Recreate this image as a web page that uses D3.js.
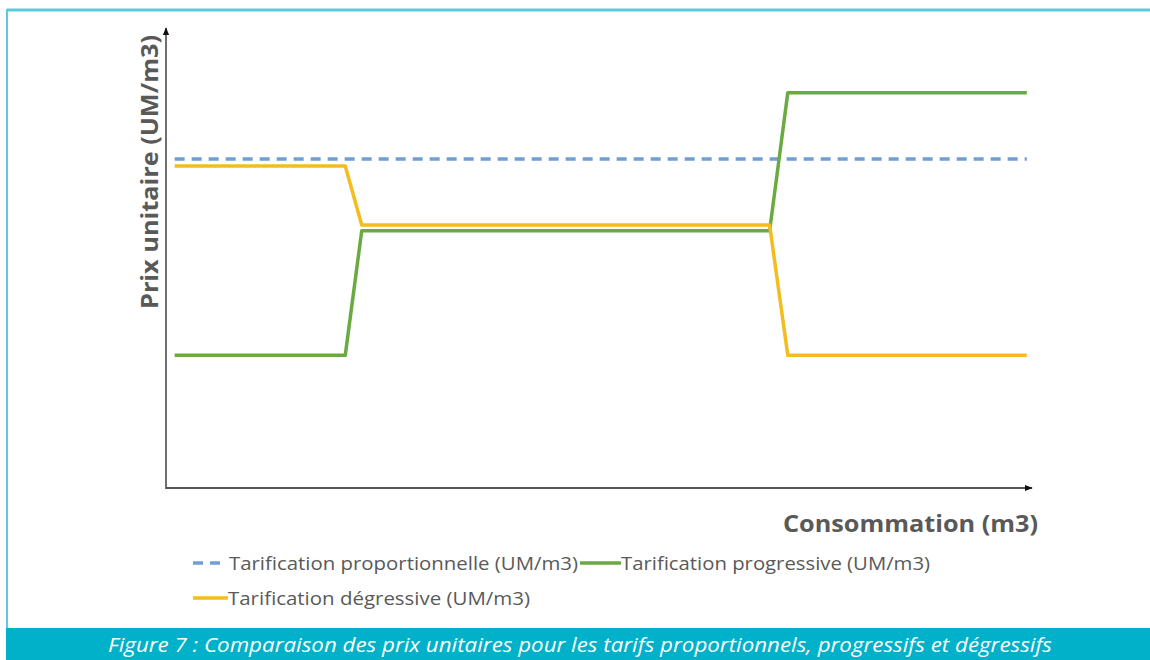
<!DOCTYPE html>
<html>
<head>
<meta charset="utf-8" />
<script src="https://d3js.org/d3.v7.min.js"></script>
<style>
  body { margin: 0; background: #fff; }
  svg { display: block; font-family: "Open Sans", sans-serif; }
</style>
</head>
<body>
<div id="visu"></div>
<script>
// Dimensions
const largeur = 1150;
const hauteur = 660;

// Données (unités arbitraires)
const consommation = [1, 20.7, 22.6, 69.7, 71.8, 99.4];
const proportionnelle = [5.03, 5.03, 5.03, 5.03, 5.03, 5.03];
const progressive = [2.03, 2.03, 3.93, 3.93, 6.04, 6.04];
const degressive = [4.92, 4.92, 4.02, 4.02, 2.03, 2.03];

const series = ["Tarification proportionnelle (UM/m3)", "Tarification progressive (UM/m3)", "Tarification dégressive (UM/m3)"];
const couleurs = ["#6f9fd6", "#6aaa40", "#f4bd1e"];
const valeurs = [proportionnelle, progressive, degressive];

const titreX = "Consommation (m3)";
const titreY = "Prix unitaire (UM/m3)";
const legende = "Figure 7 : Comparaison des prix unitaires pour les tarifs proportionnels, progressifs et dégressifs";

const svg = d3.select('#visu').append('svg')
  .attr('width', largeur)
  .attr('height', hauteur);

// cadre turquoise
svg.append('line').attr('x1', 7).attr('x2', largeur).attr('y1', 10).attr('y2', 10)
  .attr('stroke', '#5ccad9').attr('stroke-width', 3);
svg.append('line').attr('x1', 7).attr('x2', 7).attr('y1', 9).attr('y2', 630)
  .attr('stroke', '#5ccad9').attr('stroke-width', 2);
svg.append('rect').attr('x', 6).attr('y', 628).attr('width', largeur - 6).attr('height', 32)
  .attr('fill', '#00b1c9');
svg.append('text')
  .attr('x', 580).attr('y', 652)
  .attr('text-anchor', 'middle')
  .attr('fill', '#fff')
  .attr('font-style', 'italic')
  .attr('font-size', 20)
  .attr('textLength', 944)
  .attr('lengthAdjust', 'spacingAndGlyphs')
  .text(legende);

// Echelles
const marge = {gauche: 166, droite: 1032, haut: 30, bas: 488};
const x = d3.scaleLinear().domain([0, 100]).range([marge.gauche, marge.droite]);
const y = d3.scaleLinear().domain([0, 7]).range([marge.bas, marge.haut]);

// flèches
const defs = svg.append('defs');
defs.append('marker')
  .attr('id', 'fleche')
  .attr('viewBox', '0 0 10 10')
  .attr('refX', 9).attr('refY', 5)
  .attr('markerWidth', 8).attr('markerHeight', 8)
  .attr('markerUnits', 'userSpaceOnUse')
  .attr('orient', 'auto')
  .append('path').attr('d', 'M0,1 L10,5 L0,9 Z').attr('fill', '#111');

// Axes (sans graduations)
svg.append('line')
  .attr('x1', x(0)).attr('x2', x(0))
  .attr('y1', y(0) + 1).attr('y2', y(7) - 2)
  .attr('stroke', '#222').attr('stroke-width', 1.3)
  .attr('marker-end', 'url(#fleche)');
svg.append('line')
  .attr('x1', x(0)).attr('x2', x(100))
  .attr('y1', y(0)).attr('y2', y(0))
  .attr('stroke', '#555').attr('stroke-width', 2)
  .attr('marker-end', 'url(#fleche)');

// Titres des axes
svg.append('text')
  .attr('x', 783).attr('y', 532)
  .attr('font-size', 23).attr('font-weight', 'bold')
  .attr('fill', '#595959')
  .attr('textLength', 255)
  .attr('lengthAdjust', 'spacingAndGlyphs')
  .text(titreX);
svg.append('text')
  .attr('transform', 'translate(158, 172) rotate(-90)')
  .attr('text-anchor', 'middle')
  .attr('font-size', 23).attr('font-weight', 'bold')
  .attr('fill', '#595959')
  .attr('textLength', 274)
  .attr('lengthAdjust', 'spacingAndGlyphs')
  .text(titreY);

// Lignes
const ligneGen = d3.line()
  .x((d, i) => x(consommation[i]))
  .y(d => y(d));

valeurs.forEach((v, i) => {
  svg.append('path')
    .datum(v)
    .attr('d', ligneGen)
    .attr('fill', 'none')
    .attr('stroke', couleurs[i])
    .attr('stroke-width', 3.5)
    .attr('stroke-linejoin', 'round')
    .attr('stroke-dasharray', i === 0 ? '10,7' : null);
});

// Légende
const posLegende = [[193, 563], [580, 563], [193, 598]];
const longueur = [31, 41, 35];
const largeurTexte = [349, 309, 302];
series.forEach((s, i) => {
  const [lx, ly] = posLegende[i];
  svg.append('line')
    .attr('x1', lx).attr('x2', lx + longueur[i])
    .attr('y1', ly).attr('y2', ly)
    .attr('stroke', couleurs[i]).attr('stroke-width', 3.5)
    .attr('stroke-dasharray', i === 0 ? '10,7' : null);
  svg.append('text')
    .attr('x', i === 0 ? 229 : lx + longueur[i]).attr('y', ly + 7)
    .attr('font-size', 18.5)
    .attr('fill', '#595959')
    .attr('textLength', largeurTexte[i])
    .attr('lengthAdjust', 'spacingAndGlyphs')
    .text(s);
});
</script>
</body>
</html>
